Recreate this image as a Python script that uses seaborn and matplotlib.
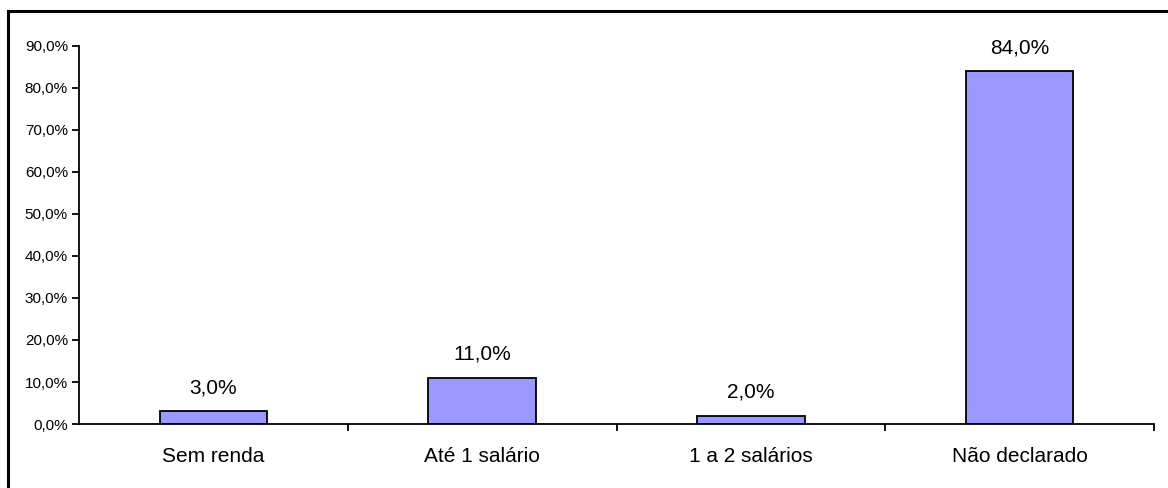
import matplotlib
matplotlib.use("Agg")
import matplotlib.pyplot as plt
import matplotlib.patches as mpatches
import seaborn as sns
import pandas as pd

# Income bracket distribution
categories = ["Sem renda", "Até 1 salário", "1 a 2 salários", "Não declarado"]
shares = [3.0, 11.0, 2.0, 84.0]
y_ticks = [0, 10, 20, 30, 40, 50, 60, 70, 80, 90]

df = pd.DataFrame({"categoria": categories, "percentual": shares})

sns.set_theme(style="white")
plt.rcParams["font.family"] = ["Liberation Sans", "DejaVu Sans"]
plt.rcParams["text.color"] = "black"
plt.rcParams["xtick.color"] = "black"
plt.rcParams["ytick.color"] = "black"

fig = plt.figure(figsize=(11.68, 4.88), dpi=100)
ax = fig.add_axes([79 / 1168, 1 - 424 / 488, (1154 - 79) / 1168, (424 - 46) / 488])

# Outer border of the chart area (right/bottom edges fall outside the canvas)
fig.patches.append(mpatches.Rectangle((8 / 1168, -0.1), 1.2, 1 - 11 / 488 + 0.1,
                                      transform=fig.transFigure, fill=False,
                                      edgecolor="black", linewidth=2.2, zorder=0))

sns.barplot(data=df, x="categoria", y="percentual", ax=ax, color="#9999FF",
            edgecolor="black", linewidth=1.3, width=0.4, saturation=1)

ax.set_xlim(-0.5, len(categories) - 0.5)
ax.set_ylim(0, 90)
ax.set_yticks(y_ticks)
ax.set_yticklabels([f"{v:.1f}%".replace(".", ",") for v in y_ticks], fontsize=11)
ax.set_xlabel("")
ax.set_ylabel("")

ax.tick_params(axis="x", which="major", length=0, labelsize=15, pad=16.5,
               labelcolor="black")
ax.set_xticks([i + 0.5 for i in range(len(categories))], minor=True)
ax.tick_params(axis="x", which="minor", bottom=True, length=5, width=1.3,
               color="black", direction="out")
ax.tick_params(axis="y", length=5, width=1.3, color="black", direction="out",
               left=True, pad=3, labelcolor="black")

for side in ["top", "right"]:
    ax.spines[side].set_visible(False)
for side in ["left", "bottom"]:
    ax.spines[side].set_color("black")
    ax.spines[side].set_linewidth(1.3)

ax.bar_label(ax.containers[0], labels=[f"{v:.1f}%".replace(".", ",") for v in shares],
             padding=10, fontsize=15, color="black")

fig.savefig("out.png", dpi=100, facecolor="white")
